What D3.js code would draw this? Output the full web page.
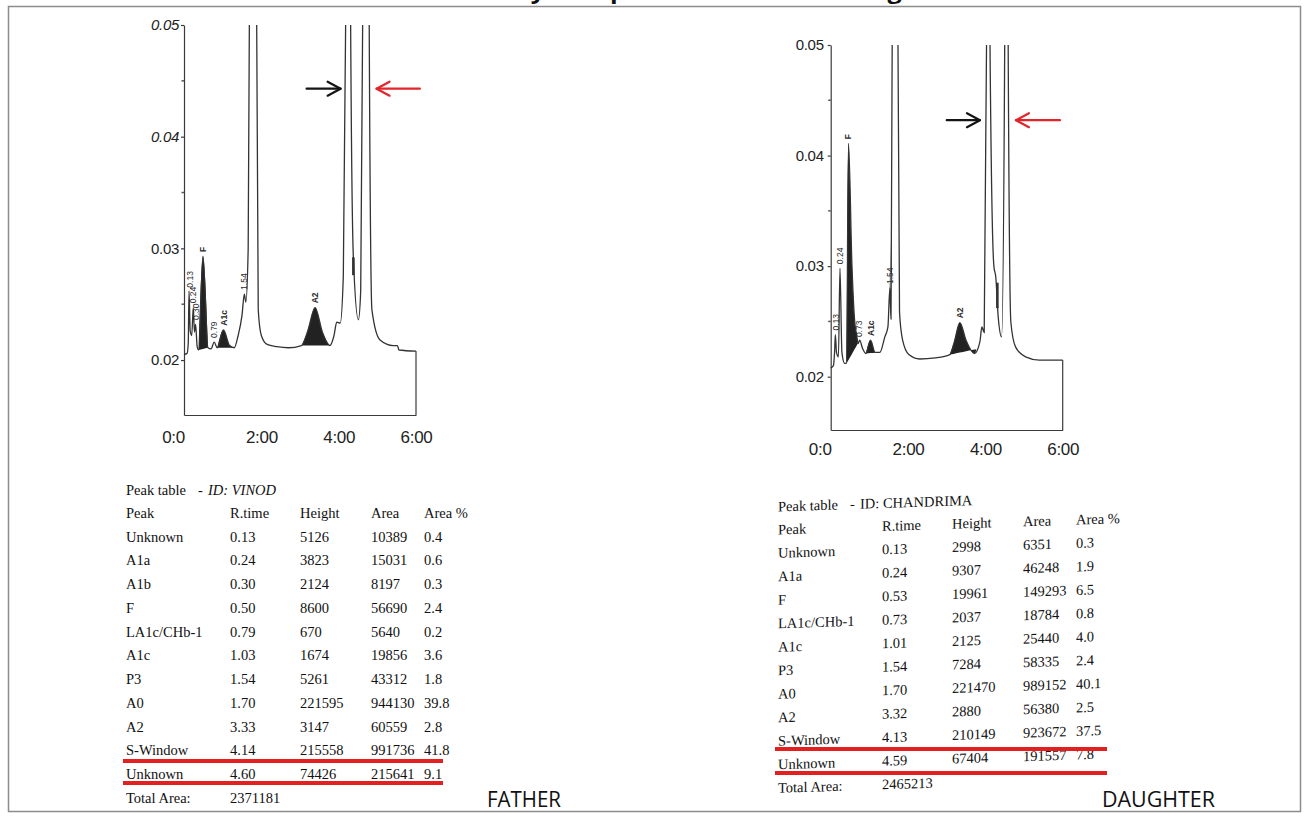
<!DOCTYPE html>
<html>
<head>
<meta charset="utf-8">
<script src="https://cdn.jsdelivr.net/npm/d3@7"></script>
<style>
  body { margin: 0; background: #fff; }
  svg { display: block; }
</style>
</head>
<body>
<div id="viz"></div>
<script>
// ---- data ----
const titleText = "HPLC analysis report of father and daughter";
const sampleNames = ["FATHER", "DAUGHTER"];

const timeTicks = [0, 2, 4, 6];
const timeLabels = ["0:0", "2:00", "4:00", "6:00"];
const absTicks = [0.02, 0.03, 0.04, 0.05];
const absMinor = [0.025, 0.035, 0.045];

// chromatogram traces: [time (min), absorbance]
const fatherTrace = [
  [0.00, 0.0205], [0.08, 0.0206], [0.11, 0.0215], [0.13, 0.0262], [0.16, 0.0226],
  [0.20, 0.0222], [0.24, 0.0247], [0.27, 0.0225], [0.30, 0.0232], [0.34, 0.0212],
  [0.38, 0.0209], [0.49, 0.0293], [0.62, 0.0211], [0.70, 0.0210], [0.78, 0.0216],
  [0.86, 0.0211], [1.02, 0.0227], [1.18, 0.0213], [1.30, 0.0211], [1.40, 0.0222],
  [1.50, 0.0240], [1.56, 0.0259], [1.60, 0.0252], [1.66, 0.0300], [1.69, 0.0500],
  [1.785, 0.5000], [1.88, 0.0500], [1.92, 0.0245], [2.00, 0.0222], [2.15, 0.0214],
  [2.40, 0.0212], [2.70, 0.0211], [3.04, 0.0213], [3.20, 0.0226], [3.39, 0.0247],
  [3.58, 0.0225], [3.77, 0.0213], [3.88, 0.0222], [3.95, 0.0234], [4.04, 0.0233],
  [4.12, 0.0275], [4.18, 0.0500], [4.245, 0.5000], [4.31, 0.0500], [4.38, 0.0292],
  [4.51, 0.0236], [4.57, 0.0262], [4.62, 0.0500], [4.705, 0.5000], [4.79, 0.0500],
  [4.86, 0.0245], [5.07, 0.0218], [5.41, 0.0213], [5.52, 0.0213], [5.56, 0.0209],
  [6.00, 0.0208]
];
const daughterTrace = [
  [0.00, 0.0208], [0.07, 0.0210], [0.10, 0.0222], [0.12, 0.0238], [0.15, 0.0222],
  [0.20, 0.0218], [0.24, 0.0298], [0.29, 0.0222], [0.36, 0.0212], [0.41, 0.0212],
  [0.46, 0.0411], [0.55, 0.0300], [0.62, 0.0250], [0.67, 0.0238], [0.71, 0.0230],
  [0.75, 0.0233], [0.82, 0.0226], [0.91, 0.0221], [1.03, 0.0233], [1.15, 0.0222],
  [1.27, 0.0222], [1.40, 0.0236], [1.48, 0.0245], [1.53, 0.0280], [1.56, 0.0252],
  [1.59, 0.0500], [1.665, 0.5000], [1.74, 0.0500], [1.78, 0.0258], [1.86, 0.0233],
  [2.02, 0.0220], [2.30, 0.0216], [2.70, 0.0217], [3.08, 0.0220], [3.20, 0.0232],
  [3.34, 0.0249], [3.50, 0.0233], [3.72, 0.0221], [3.86, 0.0232], [3.91, 0.0245],
  [3.97, 0.0240], [4.03, 0.0500], [4.075, 0.5000], [4.12, 0.0500], [4.22, 0.0300],
  [4.27, 0.0290], [4.33, 0.0255], [4.42, 0.0236], [4.50, 0.0500], [4.545, 0.5000],
  [4.59, 0.0500], [4.66, 0.0249], [4.78, 0.0227], [5.04, 0.0218], [5.40, 0.0215],
  [6.00, 0.0215]
];

// integrated (shaded) peaks: [start, end] in minutes
const fatherFills = [[0.38, 0.62], [0.86, 1.30], [3.04, 3.77]];
const daughterFills = [[0.41, 0.75], [0.91, 1.27], [3.08, 3.77]];
const daughterLightFills = [[1.48, 1.57]];

// event marks on the peak flanks: [time, from, to]
const fatherMarks = [[4.38, 0.0276, 0.0292]];
const daughterMarks = [[4.31, 0.0262, 0.0285]];

// peak labels printed by the instrument: [text, time, absorbance]
const fatherPeakLabels = [
  ["0.13", 0.15, 0.0263], ["0.24", 0.24, 0.0249], ["0.30", 0.31, 0.0234],
  ["F", 0.49, 0.0295], ["0.79", 0.78, 0.0218], ["A1c", 1.04, 0.0229],
  ["1.54", 1.56, 0.0261], ["A2", 3.39, 0.0249]
];
const daughterPeakLabels = [
  ["0.13", 0.14, 0.0240], ["0.24", 0.25, 0.0300], ["F", 0.46, 0.0413],
  ["0.73", 0.72, 0.0234], ["A1c", 1.04, 0.0235], ["1.54", 1.53, 0.0282],
  ["A2", 3.34, 0.0251]
];

// annotation arrows: [tail time, head time] at one absorbance level
const fatherArrows = [[3.17, 4.05], [6.10, 4.98]];
const fatherArrowLevel = 0.0443;
const daughterArrows = [[3.00, 3.86], [5.93, 4.79]];
const daughterArrowLevel = 0.0432;

// peak tables
const tableColumns = ["Peak", "R.time", "Height", "Area", "Area %"];

const fatherId = "VINOD";
const fatherPeaks = ["Unknown", "A1a", "A1b", "F", "LA1c/CHb-1", "A1c", "P3", "A0", "A2", "S-Window", "Unknown"];
const fatherRtime = [0.13, 0.24, 0.30, 0.50, 0.79, 1.03, 1.54, 1.70, 3.33, 4.14, 4.60];
const fatherHeight = [5126, 3823, 2124, 8600, 670, 1674, 5261, 221595, 3147, 215558, 74426];
const fatherArea = [10389, 15031, 8197, 56690, 5640, 19856, 43312, 944130, 60559, 991736, 215641];
const fatherAreaPct = [0.4, 0.6, 0.3, 2.4, 0.2, 3.6, 1.8, 39.8, 2.8, 41.8, 9.1];
const fatherTotalArea = 2371181;

const daughterId = "CHANDRIMA";
const daughterPeaks = ["Unknown", "A1a", "F", "LA1c/CHb-1", "A1c", "P3", "A0", "A2", "S-Window", "Unknown"];
const daughterRtime = [0.13, 0.24, 0.53, 0.73, 1.01, 1.54, 1.70, 3.32, 4.13, 4.59];
const daughterHeight = [2998, 9307, 19961, 2037, 2125, 7284, 221470, 2880, 210149, 67404];
const daughterArea = [6351, 46248, 149293, 18784, 25440, 58335, 989152, 56380, 923672, 191557];
const daughterAreaPct = [0.3, 1.9, 6.5, 0.8, 4.0, 2.4, 40.1, 2.5, 37.5, 7.8];
const daughterTotalArea = 2465213;

// ---- drawing ----
const W = 1305, H = 816;
const svg = d3.select("#viz").append("svg")
  .attr("width", W).attr("height", H)
  .style("background", "#fff");

const sansFont = "'Liberation Sans', Arial, sans-serif";
const serifFont = "'Liberation Serif', 'Times New Roman', serif";
const labelFont = "'Open Sans', 'Noto Sans', sans-serif";

// title strip at the very top, cut by the page edge as in the scan
svg.append("text")
  .attr("x", 405).attr("y", -1)
  .attr("textLength", 550).attr("lengthAdjust", "spacingAndGlyphs")
  .attr("font-family", labelFont).attr("font-weight", 700).attr("font-size", 22)
  .attr("fill", "#111")
  .text(titleText);

// page frame
svg.append("rect")
  .attr("x", 8.5).attr("y", 6.5).attr("width", 1292).attr("height", 805)
  .attr("fill", "none").attr("stroke", "#8c8c8c").attr("stroke-width", 1.5);

function drawChart(c) {
  const g = svg.append("g");
  const x = d3.scaleLinear().domain([0, 6]).range([c.left, c.right]);
  const y = d3.scaleLinear().domain([c.absMin, 0.05]).range([c.bottom, c.top]);

  const clipId = "clip-" + c.id;
  g.append("clipPath").attr("id", clipId).append("rect")
    .attr("x", c.left - 2).attr("y", c.top)
    .attr("width", c.right - c.left + 4).attr("height", c.bottom - c.top);

  const bis = d3.bisector(d => d[0]).left;
  const valueAt = t => {
    const i = bis(c.trace, t);
    if (i <= 0) return c.trace[0][1];
    const a = c.trace[i - 1], b = c.trace[i];
    if (!b) return a[1];
    return a[1] + (b[1] - a[1]) * (t - a[0]) / (b[0] - a[0]);
  };

  // shaded peaks
  function shade(ranges, color) {
    ranges.forEach(([t0, t1]) => {
      const pts = [[t0, valueAt(t0)], ...c.trace.filter(d => d[0] > t0 && d[0] < t1), [t1, valueAt(t1)]];
      const base = d3.scaleLinear().domain([t0, t1]).range([pts[0][1], pts[pts.length - 1][1]]);
      const area = d3.area()
        .x(d => x(d[0]))
        .y0(d => y(base(d[0])))
        .y1(d => y(d[1]))
        .curve(d3.curveMonotoneX);
      g.append("path").datum(pts)
        .attr("clip-path", `url(#${clipId})`)
        .attr("d", area)
        .attr("fill", color);
    });
  }
  shade(c.fills, "#222");
  if (c.lightFills) shade(c.lightFills, "#a8a8a8");

  // y axis
  const yAxis = d3.axisLeft(y).tickValues(absTicks)
    .tickFormat(d3.format(".2f"))
    .tickSizeInner(3).tickSizeOuter(0).tickPadding(c.yPad);
  const ya = g.append("g").attr("transform", `translate(${c.left},0)`).call(yAxis);
  ya.select(".domain").attr("stroke", "#3a3a3a").attr("stroke-width", 1.2);
  ya.selectAll(".tick line").attr("stroke", "#3a3a3a").attr("stroke-width", 1.2);
  ya.selectAll(".tick text")
    .attr("font-family", sansFont).attr("font-size", 15).attr("fill", "#222")
    .attr("letter-spacing", -0.3)
    .attr("font-style", d => c.italicTicks.includes(d) ? "italic" : "normal");
  g.append("g").selectAll("line").data(absMinor).join("line")
    .attr("x1", c.left - 2.5).attr("x2", c.left)
    .attr("y1", d => y(d)).attr("y2", d => y(d))
    .attr("stroke", "#555").attr("stroke-width", 1.5);

  // x axis
  const xAxis = d3.axisBottom(x).tickValues(timeTicks)
    .tickFormat((d, i) => timeLabels[i])
    .tickSizeInner(0).tickSizeOuter(0).tickPadding(c.xPad);
  const xa = g.append("g").attr("transform", `translate(0,${c.bottom})`).call(xAxis);
  xa.select(".domain").attr("stroke", "#3a3a3a").attr("stroke-width", 1.2);
  xa.selectAll(".tick text")
    .attr("font-family", sansFont).attr("font-size", 17).attr("fill", "#222")
    .attr("letter-spacing", -0.3)
    .attr("dx", d => d === 0 ? -11 : 0);

  // trace
  const line = d3.line().x(d => x(d[0])).y(d => y(d[1])).curve(d3.curveMonotoneX);
  g.append("path").datum(c.trace)
    .attr("clip-path", `url(#${clipId})`)
    .attr("d", line)
    .attr("fill", "none").attr("stroke", "#333").attr("stroke-width", 1.3);

  // closing line at the end of the run
  const last = c.trace[c.trace.length - 1];
  g.append("line")
    .attr("x1", x(last[0])).attr("x2", x(last[0]))
    .attr("y1", y(last[1])).attr("y2", c.bottom)
    .attr("stroke", "#3a3a3a").attr("stroke-width", 1.2);

  // event marks
  g.append("g").selectAll("line").data(c.marks).join("line")
    .attr("x1", d => x(d[0])).attr("x2", d => x(d[0]))
    .attr("y1", d => y(d[1])).attr("y2", d => y(d[2]))
    .attr("stroke", "#333").attr("stroke-width", 2.6);

  // peak labels
  g.append("g").selectAll("text").data(c.labels).join("text")
    .attr("transform", d => `translate(${x(d[1])},${y(d[2]) - 2}) rotate(-90)`)
    .attr("dy", "0.35em")
    .attr("font-family", sansFont).attr("font-size", 8.5)
    .attr("font-weight", d => /[A-Z]/.test(d[0]) ? 700 : 400)
    .attr("fill", "#2a2a2a")
    .text(d => d[0]);

  // arrows
  const arrowColors = ["#151515", "#e2252b"];
  c.arrows.forEach(([from, to], i) => {
    const ay = y(c.arrowLevel);
    const x0 = x(from), x1 = x(to);
    const dir = Math.sign(x1 - x0);
    const a = g.append("g").attr("stroke", arrowColors[i]).attr("stroke-width", 2.2)
      .attr("fill", "none").attr("stroke-linecap", "round").attr("stroke-linejoin", "round");
    a.append("line").attr("x1", x0).attr("x2", x1).attr("y1", ay).attr("y2", ay);
    a.append("path").attr("d", `M${x1 - dir * 13},${ay - 7}L${x1},${ay}L${x1 - dir * 13},${ay + 7}`);
  });
}

drawChart({
  id: "father", left: 184, right: 416, top: 25, bottom: 415, absMin: 0.01508,
  trace: fatherTrace, fills: fatherFills, marks: fatherMarks, labels: fatherPeakLabels,
  arrows: fatherArrows, arrowLevel: fatherArrowLevel,
  italicTicks: [0.04, 0.05], yPad: 2, xPad: 16
});
drawChart({
  id: "daughter", left: 830.7, right: 1062.7, top: 45, bottom: 430, absMin: 0.01518,
  trace: daughterTrace, fills: daughterFills, lightFills: daughterLightFills,
  marks: daughterMarks, labels: daughterPeakLabels,
  arrows: daughterArrows, arrowLevel: daughterArrowLevel,
  italicTicks: [], yPad: 4, xPad: 13
});

// peak tables
const fmt2 = d3.format(".2f"), fmt1 = d3.format(".1f");
const colX = [0, 104, 174, 245, 298];

function drawTable(t) {
  const g = svg.append("g")
    .attr("transform", `translate(${t.left},${t.top}) skewY(${t.skew})`)
    .attr("font-family", serifFont).attr("font-size", 14.5).attr("fill", "#111");

  const title = g.append("text").attr("y", 0);
  title.append("tspan").attr("x", 0).text("Peak table");
  title.append("tspan").attr("x", 72).text("-");
  title.append("tspan").attr("x", 82).attr("font-style", t.italicId ? "italic" : null).text("ID: " + t.id);

  g.append("g").selectAll("text").data(tableColumns).join("text")
    .attr("x", (d, i) => colX[i]).attr("y", t.headerY)
    .text(d => d);

  const rows = t.peaks.map((p, i) => [p, fmt2(t.rtime[i]), t.height[i], t.area[i], fmt1(t.pct[i])]);
  const rg = g.append("g").selectAll("g").data(rows).join("g")
    .attr("transform", (d, i) => `translate(0,${t.rowY + i * t.rowH})`);
  rg.selectAll("text").data(d => d).join("text")
    .attr("x", (d, i) => colX[i])
    .text(d => d);

  const totalY = t.rowY + rows.length * t.rowH;
  g.append("text").attr("x", 0).attr("y", totalY).text("Total Area:");
  g.append("text").attr("x", colX[1]).attr("y", totalY).text(t.total);

  // red highlight rules under the last two rows
  t.rules.forEach(ry => {
    svg.append("line")
      .attr("x1", t.ruleX[0]).attr("x2", t.ruleX[1])
      .attr("y1", ry).attr("y2", ry)
      .attr("stroke", "#e3201f").attr("stroke-width", 4);
  });
}

drawTable({
  left: 126, top: 494.5, skew: 0, id: fatherId, italicId: true,
  headerY: 23.5, rowY: 47, rowH: 23.76,
  peaks: fatherPeaks, rtime: fatherRtime, height: fatherHeight, area: fatherArea, pct: fatherAreaPct,
  total: fatherTotalArea, rules: [761, 783], ruleX: [123, 443]
});
drawTable({
  left: 778, top: 511.5, skew: -1.9, id: daughterId, italicId: false,
  headerY: 23, rowY: 46.3, rowH: 23.5,
  peaks: daughterPeaks, rtime: daughterRtime, height: daughterHeight, area: daughterArea, pct: daughterAreaPct,
  total: daughterTotalArea, rules: [749, 773], ruleX: [775, 1107]
});

// sample names
svg.append("text")
  .attr("x", 487).attr("y", 807)
  .attr("textLength", 74).attr("lengthAdjust", "spacingAndGlyphs")
  .attr("font-family", labelFont).attr("font-size", 21).attr("fill", "#111")
  .text(sampleNames[0]);
svg.append("text")
  .attr("x", 1102).attr("y", 807)
  .attr("textLength", 113).attr("lengthAdjust", "spacingAndGlyphs")
  .attr("font-family", labelFont).attr("font-size", 21).attr("fill", "#111")
  .text(sampleNames[1]);
</script>
</body>
</html>
